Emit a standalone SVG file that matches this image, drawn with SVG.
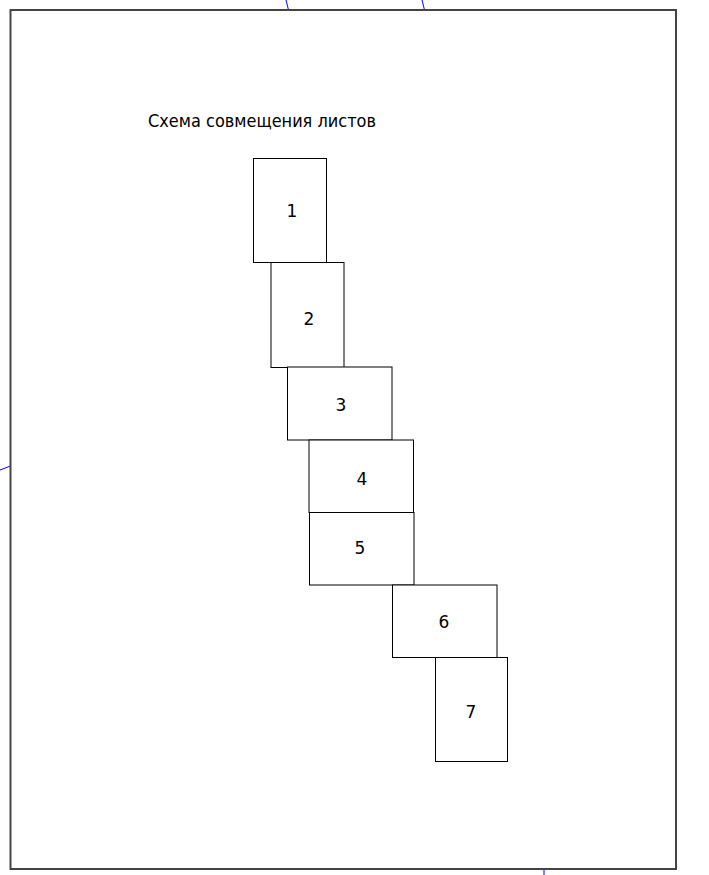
<svg xmlns="http://www.w3.org/2000/svg" width="709" height="875" viewBox="0 0 709 875">
<style>
.sheet{fill:#fff;stroke:#000;stroke-width:1}
.lbl{font-family:"DejaVu Sans","Liberation Sans",sans-serif;font-size:17px;fill:#000;text-anchor:middle}
.blue{stroke:#0000ff;stroke-width:1;fill:none}
</style>
<rect width="709" height="875" fill="#fff"/>
<g id="connectors">
<line class="blue" x1="286" y1="0" x2="288.5" y2="10"/>
<line class="blue" x1="422" y1="0" x2="424.5" y2="10"/>
<line class="blue" x1="0" y1="470" x2="10.5" y2="466"/>
<line class="blue" x1="544" y1="870" x2="544" y2="875"/>
</g>
<g id="frame">
<rect x="10.5" y="10" width="665.5" height="859" fill="none" stroke="#444" stroke-width="2"/>
</g>
<g id="title">
<text x="148" y="126.5" font-family="DejaVu Sans, Liberation Sans, sans-serif" font-size="17" textLength="228" lengthAdjust="spacingAndGlyphs">Схема совмещения листов</text>
</g>
<g id="sheet1"><rect class="sheet" x="253.5" y="158.5" width="73" height="104"/><text class="lbl" x="292" y="216.5">1</text></g>
<g id="sheet2"><rect class="sheet" x="271" y="262.5" width="73" height="105" stroke-width="1.5"/><text class="lbl" x="309" y="324.5">2</text></g>
<g id="sheet3"><rect class="sheet" x="287.5" y="367" width="104.5" height="73"/><text class="lbl" x="341" y="410.5">3</text></g>
<g id="sheet4"><rect class="sheet" x="309" y="440" width="104.5" height="72.5"/><text class="lbl" x="362" y="484.5">4</text></g>
<g id="sheet5"><rect class="sheet" x="309.5" y="512.5" width="104.5" height="72.5"/><text class="lbl" x="360" y="553.5">5</text></g>
<g id="sheet6"><rect class="sheet" x="392.5" y="585" width="104.5" height="72.5"/><text class="lbl" x="444" y="627.5">6</text></g>
<g id="sheet7"><rect class="sheet" x="435.5" y="657.5" width="72" height="104"/><text class="lbl" x="471" y="717.5">7</text></g>
</svg>
